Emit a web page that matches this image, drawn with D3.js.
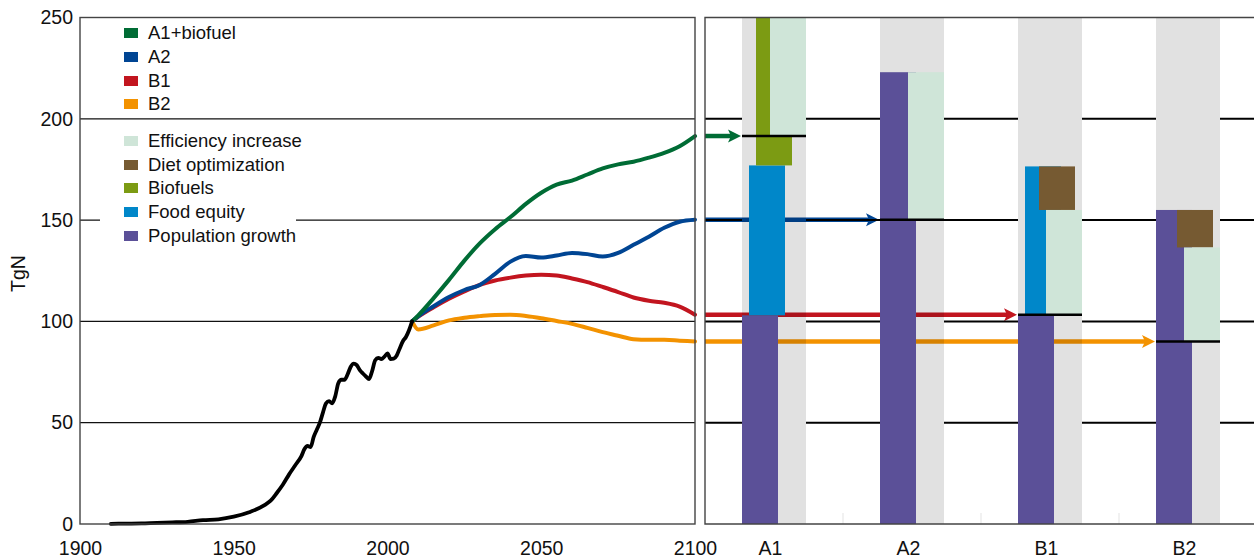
<!DOCTYPE html>
<html><head><meta charset="utf-8">
<script src="https://cdn.jsdelivr.net/npm/d3@7"></script>
<style>
body{margin:0;background:#fff;}
svg{display:block;font-family:"Liberation Sans",Arial,sans-serif;}
</style></head><body><svg id="c" width="1254" height="558"></svg>
<script>
// ---------- DATA ----------
const histYears  = [1910,1915,1920,1925,1930,1935,1940,1945,1950,1955,1960,1962,1964,1966,1968,1970,1972,1973,1974,1975,1976,1977,1978,1979,1980,1981,1982,1983,1984,1985,1986,1987,1988,1989,1990,1991,1992,1993,1994,1995,1996,1997,1998,1999,2000,2001,2002,2003,2004,2005,2006,2007,2008];
const histValues = [0.1,0.2,0.3,0.6,0.8,1.1,1.9,2.3,3.6,5.8,9.3,11.5,15.3,19.5,24.5,29,33.5,37,38.5,38,43,46.5,50,55,59.5,60.6,59.6,63,69.5,71.2,71.2,73.8,77.5,79.2,78.4,76,74.3,72.8,71.5,75.5,80.8,82,81.4,82.6,84.2,81.4,81.6,83.2,86.8,90.2,92.3,95.6,100];

const projYears = [2008,2010,2015,2020,2025,2030,2035,2040,2045,2050,2055,2060,2065,2070,2075,2080,2085,2090,2095,2100];
const a1Values = [100,103,111.5,120.5,130,138.5,145.5,151.5,158,163.5,167.5,169.5,172.5,175.5,177.5,178.8,180.8,183.2,186.5,191.5];
const a2Values = [100,102.5,107.5,112,115.5,118,123.5,129.5,132.3,131.5,132.5,133.8,133.2,132,133.8,137.8,141.8,146.2,149.2,150.2];
const b1Values = [100,102.3,107,111.2,114.8,118,120.2,121.6,122.6,123,122.7,121.2,119.4,117,114.5,111.8,110.2,109.2,107.3,103.3];
const b2Values = [100,96,98,100.5,101.8,102.6,103.2,103.3,102.7,101.6,100.2,98.8,96.8,94.7,92.9,91.2,90.9,90.9,90.5,90.1];

const scenarios = ["A1","A2","B1","B2"];
const scenarioLabels = ["A1+biofuel","A2","B1","B2"];
const scenarioColors = ["#006c35","#004593","#c2151f","#f39200"];
const totals2100 = [191.5,150.2,103.3,90.1];

const components = ["Population growth","Food equity","Biofuels","Diet optimization","Efficiency increase"];
const componentColors = ["#5b5098","#0087c9","#7c9b13","#765a32","#cfe5d8"];

// waterfall steps per scenario: [component, from, to]
const stepsA1 = [["Population growth",0,103],["Food equity",103,177],["Biofuels",177,270],["Efficiency increase",270,191.5]];
const stepsA2 = [["Population growth",0,223],["Efficiency increase",223,150.2]];
const stepsB1 = [["Population growth",0,103.3],["Food equity",103.3,176.5],["Diet optimization",176.5,155],["Efficiency increase",155,103.3]];
const stepsB2 = [["Population growth",0,155],["Diet optimization",155,136.5],["Efficiency increase",136.5,90.1]];
const stepsByScenario = [stepsA1, stepsA2, stepsB1, stepsB2];

const yTicks = [0,50,100,150,200,250];
const xTicks = [1900,1950,2000,2050,2100];

// ---------- LAYOUT ----------
const svg = d3.select("#c");
const yTop = 17.5, yBot = 524;
const y = d3.scaleLinear([0,250],[yBot,yTop]);
const x = d3.scaleLinear([1900,2100],[80,695]);
const xc = d3.scaleBand(scenarios,[705,1257]);
const bandW = 64, barW = 36;
const off = d3.scalePoint(components,[0,28]);
const bandLeft = s => xc(s) + (xc.bandwidth()-bandW)/2;

const defs = svg.append("defs");
defs.append("clipPath").attr("id","clipR").append("rect")
  .attr("x",705).attr("y",yTop).attr("width",560).attr("height",yBot-yTop);

// ---------- LEFT PANEL ----------
const L = svg.append("g");
L.selectAll("line.grid").data(yTicks.filter(d=>d>0&&d<250)).join("line")
  .attr("x1",80).attr("x2",695).attr("y1",d=>y(d)).attr("y2",d=>y(d))
  .attr("stroke","#111").attr("stroke-width",1.3);

// legend backgrounds
L.append("rect").attr("x",100).attr("y",22).attr("width",196).attr("height",92).attr("fill","#fff");
L.append("rect").attr("x",100).attr("y",128).attr("width",196).attr("height",120).attr("fill","#fff");

const line = d3.line().x(d=>x(d[0])).y(d=>y(d[1])).curve(d3.curveMonotoneX);
const projSeries = [a1Values,a2Values,b1Values,b2Values];
[3,2,1,0].forEach(i=>{
  L.append("path").datum(projYears.map((yr,j)=>[yr,projSeries[i][j]]))
   .attr("d",line).attr("fill","none").attr("stroke",scenarioColors[i])
   .attr("stroke-width",4).attr("stroke-linejoin","round").attr("stroke-linecap","round");
});
L.append("path").datum(histYears.map((yr,j)=>[yr,histValues[j]]))
  .attr("d",line).attr("fill","none").attr("stroke","#000")
  .attr("stroke-width",3.8).attr("stroke-linejoin","round").attr("stroke-linecap","round");

// legend
const leg1Y = [33,57,81,104];
const leg2Y = [141,165,188,212,236];
const legend2 = components.slice().reverse();
const lg = svg.append("g");
scenarioLabels.forEach((t,i)=>{
  lg.append("rect").attr("x",124).attr("y",leg1Y[i]-5).attr("width",14).attr("height",10).attr("fill",scenarioColors[i]);
  lg.append("text").attr("x",148).attr("y",leg1Y[i]).attr("dy","0.35em").attr("font-size","18.5px").attr("fill","#111").text(t);
});
legend2.forEach((t,i)=>{
  lg.append("rect").attr("x",124).attr("y",leg2Y[i]-5).attr("width",14).attr("height",10).attr("fill",componentColors[components.indexOf(t)]);
  lg.append("text").attr("x",148).attr("y",leg2Y[i]).attr("dy","0.35em").attr("font-size","18.5px").attr("fill","#111").text(t);
});

// frame left
svg.append("rect").attr("x",80).attr("y",yTop).attr("width",615).attr("height",yBot-yTop)
  .attr("fill","none").attr("stroke","#444").attr("stroke-width",1.4);

// axes left
const ax = svg.append("g").attr("transform",`translate(80,0)`)
  .call(d3.axisLeft(y).tickValues(yTicks).tickSize(0).tickPadding(7));
ax.select(".domain").remove();
ax.selectAll("text").attr("font-size","19.5px").attr("fill","#111").style("font-family","Liberation Sans, Arial, sans-serif");

const bx = svg.append("g").attr("transform",`translate(0,${yBot})`)
  .call(d3.axisBottom(x).tickValues(xTicks).tickFormat(d3.format("d")).tickSize(0).tickPadding(17));
bx.select(".domain").remove();
bx.selectAll("text").attr("font-size","19.5px").attr("fill","#111").style("font-family","Liberation Sans, Arial, sans-serif");

svg.append("text").attr("transform","translate(24.5,273.5) rotate(-90)").attr("text-anchor","middle")
  .attr("font-size","19.5px").attr("fill","#111").text("TgN");

// ---------- RIGHT PANEL ----------
const R = svg.append("g").attr("clip-path","url(#clipR)");
R.selectAll("line.grid").data(yTicks.filter(d=>d>0&&d<250)).join("line")
  .attr("x1",705).attr("x2",1260).attr("y1",d=>y(d)).attr("y2",d=>y(d))
  .attr("stroke","#000").attr("stroke-width",2);

R.selectAll("rect.band").data(scenarios).join("rect")
  .attr("x",d=>bandLeft(d)).attr("y",yTop).attr("width",bandW).attr("height",yBot-yTop)
  .attr("fill","#e1e1e1");

R.selectAll("line.cb").data(scenarios.slice(1)).join("line")
  .attr("x1",d=>xc(d)).attr("x2",d=>xc(d)).attr("y1",yBot-11).attr("y2",yBot)
  .attr("stroke","#ececec").attr("stroke-width",1.5);

// arrows
scenarios.forEach((s,i)=>{
  const yy = y(totals2100[i]);
  const tip = bandLeft(s) - 1;
  const g = R.append("g").style("mix-blend-mode","multiply");
  g.append("line").attr("x1",705).attr("x2",tip-10).attr("y1",yy).attr("y2",yy)
    .attr("stroke",scenarioColors[i]).attr("stroke-width",4.5);
  g.append("path").attr("d",`M${tip},${yy} L${tip-13},${yy-6.5} L${tip-10},${yy} L${tip-13},${yy+6.5} Z`)
    .attr("fill",scenarioColors[i]);
});

// bars
scenarios.forEach((s,i)=>{
  stepsByScenario[i].forEach(st=>{
    const [c,a,b] = st;
    R.append("rect").attr("x",bandLeft(s)+off(c)).attr("width",barW)
      .attr("y",y(Math.max(a,b))).attr("height",Math.abs(y(a)-y(b)))
      .attr("fill",componentColors[components.indexOf(c)]);
  });
});

// totals
R.selectAll("line.tot").data(scenarios).join("line")
  .attr("x1",d=>bandLeft(d)).attr("x2",d=>bandLeft(d)+bandW)
  .attr("y1",(d,i)=>y(totals2100[i])).attr("y2",(d,i)=>y(totals2100[i]))
  .attr("stroke","#000").attr("stroke-width",2.5);

// right frame
svg.append("path").attr("d",`M1256,${yTop} H705 V${yBot} H1256`)
  .attr("fill","none").attr("stroke","#444").attr("stroke-width",1.4);

const cx = svg.append("g").attr("transform",`translate(-3.5,${yBot})`)
  .call(d3.axisBottom(xc).tickSize(0).tickPadding(17));
cx.select(".domain").remove();
cx.selectAll("text").attr("font-size","19.5px").attr("fill","#111").style("font-family","Liberation Sans, Arial, sans-serif");
</script></body></html>
